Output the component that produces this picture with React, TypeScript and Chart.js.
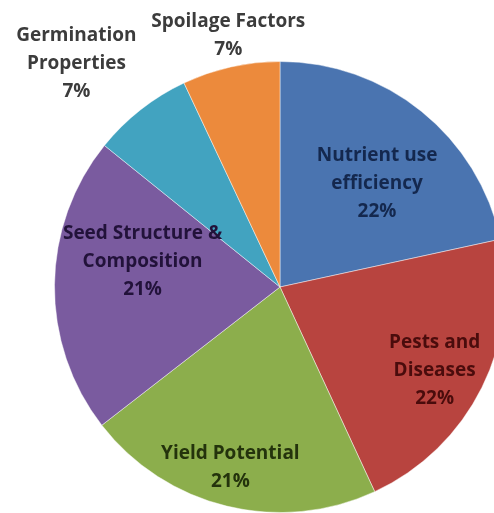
import React, { useEffect, useRef } from "react";
import { Chart, registerables } from "chart.js";

Chart.register(...registerables);

const categories: string[][] = [
  ["Nutrient use", "efficiency"],
  ["Pests and", "Diseases"],
  ["Yield Potential"],
  ["Seed Structure &", "Composition"],
  ["Germination", "Properties"],
  ["Spoilage Factors"],
];
const values: number[] = [21.6, 21.5, 21.4, 21.3, 7.2, 7.0];
const sliceColors: string[] = ["#4a74b0", "#b8443f", "#8cae4c", "#7a5b9f", "#42a3c0", "#ec8a3c"];
const labelColors: string[] = ["#14284e", "#4a0c0c", "#24330c", "#22123a", "#3c3c3c", "#3c3c3c"];

// label layout: radius fraction and angle shift (degrees) per slice
const labelLayout = [
  { r: 0.63, a: 4.2 },
  { r: 0.78, a: 2 },
  { r: 0.83, a: 1.7 },
  { r: 0.62, a: 10 },
  { r: 1.34, a: -4.2 },
  { r: 1.14, a: 1 },
];

const labelPlugin = {
  id: "sliceLabels",
  afterDatasetsDraw(chart: any) {
    const ctx = chart.ctx;
    const meta = chart.getDatasetMeta(0);
    const ds = chart.data.datasets[0];
    const total = (ds.data as number[]).reduce((s, v) => s + v, 0);
    ctx.save();
    ctx.font = "bold 19px 'Open Sans'";
    ctx.textAlign = "center";
    ctx.textBaseline = "middle";
    meta.data.forEach((arc: any, i: number) => {
      const p = arc.getProps(["x", "y", "startAngle", "endAngle", "outerRadius"], true);
      const lay = labelLayout[i];
      const mid = (p.startAngle + p.endAngle) / 2 + (lay.a * Math.PI) / 180;
      const r = p.outerRadius * lay.r;
      const cx = p.x + Math.cos(mid) * r;
      const cy = p.y + Math.sin(mid) * r;
      const lines = [...categories[i], Math.round((values[i] / total) * 100) + "%"];
      const lh = 28;
      const top = cy - ((lines.length - 1) * lh) / 2;
      ctx.fillStyle = labelColors[i];
      lines.forEach((ln, j) => ctx.fillText(ln, cx, top + j * lh));
    });
    ctx.restore();
  },
};

export default function App() {
  const ref = useRef<HTMLCanvasElement | null>(null);
  useEffect(() => {
    document.body.style.margin = "0";
    const chart = new Chart(ref.current!, {
      type: "pie",
      data: {
        labels: categories.map((c) => c.join(" ")),
        datasets: [
          {
            data: values,
            backgroundColor: sliceColors,
            borderColor: "rgba(255,255,255,0.45)",
            borderWidth: 1,
          },
        ],
      },
      options: {
        animation: false,
        responsive: false,
        layout: { padding: { top: 61, bottom: 0, left: 0, right: 0 } },
        plugins: {
          legend: { display: false },
          tooltip: { enabled: false },
        },
      },
      plugins: [labelPlugin],
    });
    return () => chart.destroy();
  }, []);
  return (
    <div style={{ position: "absolute", left: 0, top: 0, width: 494, height: 513, overflow: "hidden", background: "#fff" }}>
      <canvas ref={ref} width={560} height={513} style={{ width: 560, height: 513 }} />
    </div>
  );
}
